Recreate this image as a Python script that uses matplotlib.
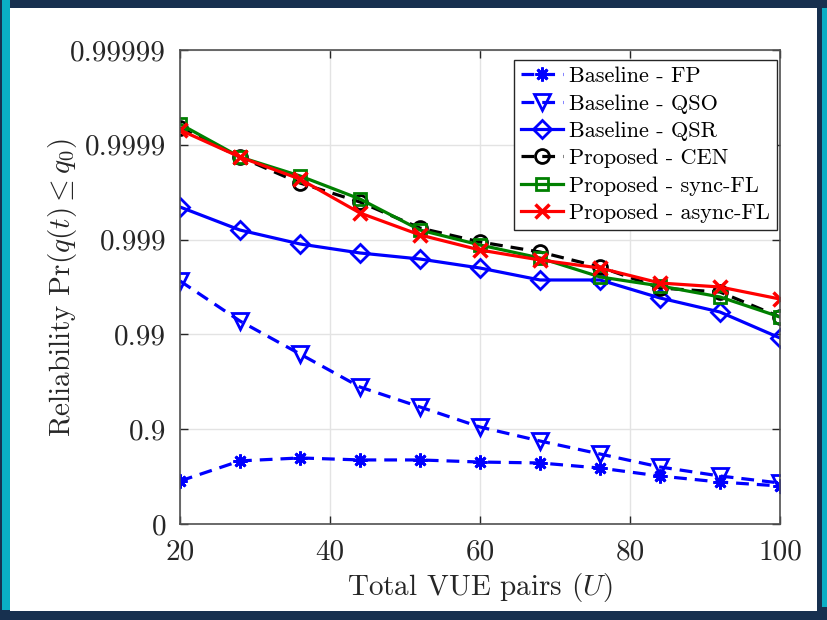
import numpy as np
import matplotlib
matplotlib.use('Agg')
import matplotlib.pyplot as plt
from matplotlib.patches import Rectangle

plt.rcParams['font.family'] = 'cmr10'
plt.rcParams['mathtext.fontset'] = 'cm'
plt.rcParams['axes.formatter.use_mathtext'] = True

# Data (reliability values)
U = [20, 28, 36, 44, 52, 60, 68, 76, 84, 92, 100]
fp = [0.648, 0.784, 0.799, 0.789, 0.789, 0.778, 0.773, 0.743, 0.688, 0.639, 0.603]
qso = [0.99727, 0.99277, 0.9839, 0.9641, 0.9417, 0.9052, 0.8668, 0.8174, 0.7496, 0.6883, 0.6306]
qsr = [0.999547, 0.999207, 0.998888, 0.998616, 0.998397, 0.998005, 0.997333, 0.997333,
       0.99587, 0.994192, 0.98909]
cen = [0.9999335, 0.9998654, 0.999747, 0.999599, 0.999245, 0.998941, 0.998648, 0.998055,
       0.996757, 0.996427, 0.993454]
sync_fl = [0.9999396, 0.9998654, 0.999787, 0.999627, 0.999207, 0.998860, 0.998437, 0.997523,
           0.996917, 0.995973, 0.993454]
async_fl = [0.9999302, 0.9998654, 0.999770, 0.999476, 0.999107, 0.998712, 0.998359, 0.998005,
            0.997129, 0.996838, 0.995764]

yticks = [0, 0.9, 0.99, 0.999, 0.9999, 0.99999]
ytick_labels = ['0', '0.9', '0.99', '0.999', '0.9999', '0.99999']
xticks = [20, 40, 60, 80, 100]


def fwd(p):
    p = np.asarray(p, dtype=float)
    return -np.log10(np.clip(1 - p, 1e-12, None))


def inv(v):
    return 1 - 10 ** (-np.asarray(v, dtype=float))


fig = plt.figure(figsize=(8.28, 6.2), dpi=100, facecolor='#17304f')
W, H = 828, 620
# slide-like frame
fig.patches.append(Rectangle((10 / W, 1 - 611 / H), 807 / W, 603 / H, transform=fig.transFigure,
                             facecolor='white', edgecolor='none', zorder=-10))
fig.patches.append(Rectangle((2 / W, 1 - 610 / H), 8 / W, 610 / H, transform=fig.transFigure,
                             facecolor='#0aaec4', edgecolor='none', zorder=-10))
fig.patches.append(Rectangle((822 / W, 1 - 607 / H), 6 / W, 599 / H, transform=fig.transFigure,
                             facecolor='#0aaec4', edgecolor='none', zorder=-10))

ax = fig.add_axes([180 / W, 1 - 524 / H, 600 / W, 474 / H])
ax.set_yscale('function', functions=(fwd, inv))

lw = 2.3
ms = 10
mew = 2.0
ax.plot(U, fp, color='blue', ls='--', dashes=(4, 2.5), lw=lw, marker=(8, 2, 0), ms=ms, mew=mew,
        label='Baseline - FP')
ax.plot(U, qso, color='blue', ls='--', dashes=(4, 2.5), lw=lw, marker='v', ms=ms + 1, mew=mew,
        mfc='none', label='Baseline - QSO')
ax.plot(U, qsr, color='blue', ls='-', lw=lw, marker='D', ms=ms - 1, mew=mew,
        mfc='none', label='Baseline - QSR')
ax.plot(U, cen, color='black', ls='--', dashes=(4, 2.5), lw=lw, marker='o', ms=ms, mew=mew,
        mfc='none', label='Proposed - CEN')
ax.plot(U, sync_fl, color='green', ls='-', lw=lw, marker='s', ms=ms - 1, mew=mew,
        mfc='none', label='Proposed - sync-FL')
ax.plot(U, async_fl, color='red', ls='-', lw=lw, marker='x', ms=ms, mew=mew + 0.5,
        label='Proposed - async-FL')

ax.set_xlim(20, 100)
ax.set_ylim(0, 0.99999)
ax.set_xticks(xticks)
ax.set_xticklabels([str(x) for x in xticks])
ax.set_yticks(yticks)
ax.set_yticklabels(ytick_labels)
ax.tick_params(direction='in', length=6, width=1, colors='#262626', labelsize=21,
               top=True, right=True, labeltop=False, labelright=False)
ax.tick_params(axis='x', pad=11)
ax.tick_params(axis='y', pad=10)
ax.grid(True, color='#e3e3e3', lw=1)
ax.set_axisbelow(True)
for s in ax.spines.values():
    s.set_color('#505050')
    s.set_linewidth(1.2)

ax.set_xlabel(r'Total VUE pairs ($U$)', fontsize=21, color='#262626', labelpad=4)
ax.set_ylabel(r'Reliability $\Pr(q(t) \leq q_0)$', fontsize=21, color='#262626')
ax.yaxis.set_label_coords(-0.168, 0.5)

leg = ax.legend(loc='upper right', bbox_to_anchor=(0.995, 0.979), fontsize=16, frameon=True,
                fancybox=False, edgecolor='#262626', framealpha=1, handlelength=1.9,
                handletextpad=0.3, borderpad=0.3, labelspacing=0.35, borderaxespad=0)
leg.get_frame().set_linewidth(1.0)

fig.savefig('out.png', dpi=100, facecolor=fig.get_facecolor())
